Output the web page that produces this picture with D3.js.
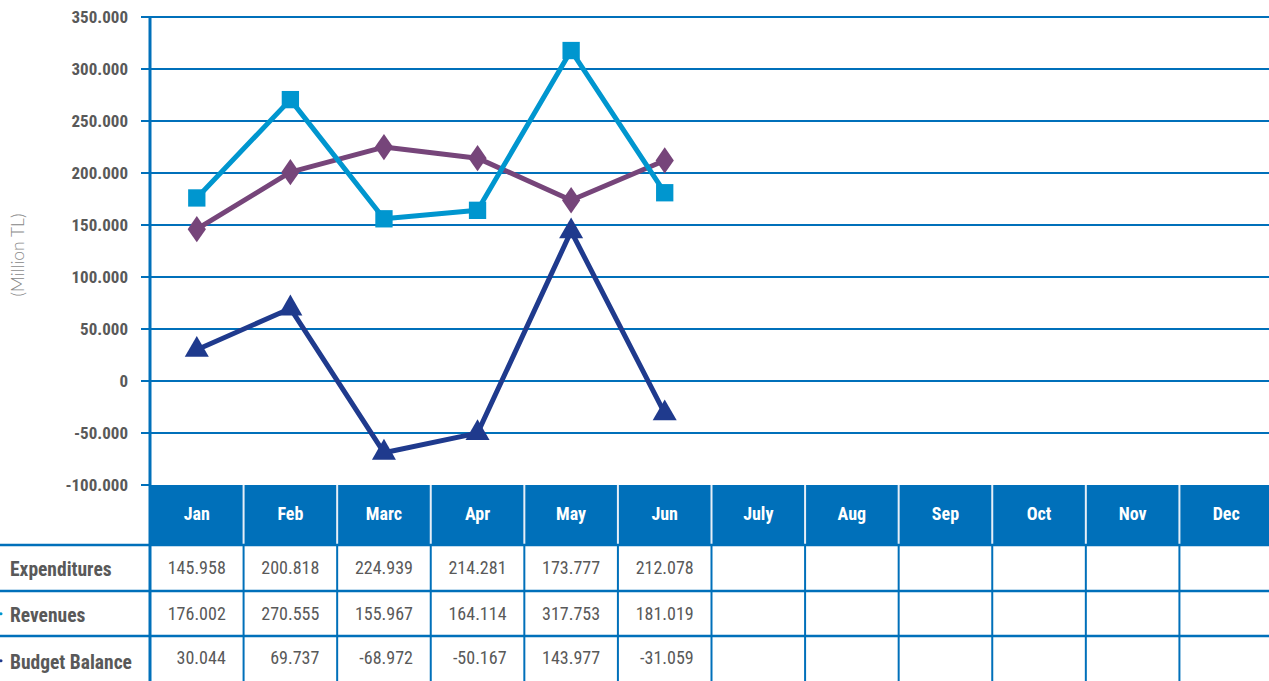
<!DOCTYPE html>
<html>
<head>
<meta charset="utf-8">
<script src="https://cdn.jsdelivr.net/npm/d3@7"></script>
<style>
  body { margin: 0; background: #fff; }
  svg text { font-family: "Liberation Sans Narrow", "Arial Narrow", "Roboto Condensed", sans-serif; }
</style>
</head>
<body>
<div id="app"></div>
<script>
const months = ["Jan", "Feb", "Marc", "Apr", "May", "Jun", "July", "Aug", "Sep", "Oct", "Nov", "Dec"];
const seriesNames = ["Expenditures", "Revenues", "Budget Balance"];
const expenditures = [145.958, 200.818, 224.939, 214.281, 173.777, 212.078];
const revenues = [176.002, 270.555, 155.967, 164.114, 317.753, 181.019];
const budgetBalance = [30.044, 69.737, -68.972, -50.167, 143.977, -31.059];
const yTicks = [-100, -50, 0, 50, 100, 150, 200, 250, 300, 350];

const width = 1269, height = 681;
const blue = "#0070ba";
const colors = ["#76457a", "#0096cf", "#1f3a8d"];
const series = [expenditures, revenues, budgetBalance];

const svg = d3.select("#app").append("svg")
    .attr("width", width)
    .attr("height", height);

// scales
let x = d3.scaleBand()
    .domain(months)
    .range([150, 1273])
    .padding(0);

let y = d3.scaleLinear()
    .domain([-100, 350])
    .range([485, 17]);

// plain hyphen for negatives, like the original
const fmt = v => d3.format(".3f")(v).replace("\u2212", "-");

// gridlines
svg.append("g").selectAll("line")
    .data(yTicks.filter(d => d > -100))
    .enter().append("line")
        .attr("x1", 141).attr("x2", width)
        .attr("y1", d => y(d)).attr("y2", d => y(d))
        .attr("stroke", blue).attr("stroke-width", 2);

// y tick labels
svg.append("g").selectAll("text")
    .data(yTicks)
    .enter().append("text")
        .attr("x", 128)
        .attr("y", d => y(d))
        .attr("dy", "0.35em")
        .attr("text-anchor", "end")
        .attr("font-size", 17)
        .attr("font-weight", "bold")
        .attr("fill", "#595959")
        .text(d => d === 0 ? "0" : fmt(d));

// y axis title
svg.append("text")
    .attr("transform", "translate(24,255) rotate(-90)")
    .attr("text-anchor", "middle")
    .attr("font-size", 17.5)
    .attr("fill", "#888")
    .style("font-family", "Lato, 'Open Sans', sans-serif")
    .style("font-weight", 300)
    .text("(Million TL)");

// header band
svg.append("rect")
    .attr("x", 150).attr("y", 485)
    .attr("width", width - 150).attr("height", 60)
    .attr("fill", blue);

svg.append("line")
    .attr("x1", 141).attr("x2", 150)
    .attr("y1", y(-100)).attr("y2", y(-100))
    .attr("stroke", blue).attr("stroke-width", 2);

// vertical axis
svg.append("line")
    .attr("x1", 150).attr("x2", 150)
    .attr("y1", 16).attr("y2", height)
    .attr("stroke", blue).attr("stroke-width", 3);

// header separators and cell lines
months.slice(1).forEach(m => {
    svg.append("line")
        .attr("x1", x(m)).attr("x2", x(m))
        .attr("y1", 485).attr("y2", 545)
        .attr("stroke", "#e6eef7").attr("stroke-width", 2);
    svg.append("line")
        .attr("x1", x(m)).attr("x2", x(m))
        .attr("y1", 545).attr("y2", height)
        .attr("stroke", blue).attr("stroke-width", 2);
});

svg.append("g").selectAll("text")
    .data(months)
    .enter().append("text")
        .attr("x", d => x(d) + x.bandwidth() / 2)
        .attr("y", 514)
        .attr("dy", "0.35em")
        .attr("text-anchor", "middle")
        .attr("font-size", 18)
        .attr("font-weight", "bold")
        .attr("fill", "#fff")
        .text(d => d);

// table rows
const rowTop = [545, 591, 636];
const rowH = 45.5;
rowTop.forEach(r => {
    svg.append("line")
        .attr("x1", 0).attr("x2", width)
        .attr("y1", r).attr("y2", r)
        .attr("stroke", blue).attr("stroke-width", 2.5);
});

seriesNames.forEach((name, i) => {
    svg.append("text")
        .attr("x", 10)
        .attr("y", rowTop[i] + rowH / 2 + (i === 2 ? 3 : 1))
        .attr("dy", "0.35em")
        .attr("font-size", 19.5)
        .attr("font-weight", "bold")
        .attr("fill", "#595959")
        .text(name);
    if (i > 0) {
        svg.append("circle")
            .attr("cx", 1).attr("cy", rowTop[i] + rowH / 2 + (i === 2 ? 2 : 0))
            .attr("r", 1.5)
            .attr("fill", colors[i]);
    }
    svg.append("g").selectAll("text")
        .data(series[i])
        .enter().append("text")
            .attr("x", (d, j) => x(months[j]) + x.bandwidth() / 2 + 29)
            .attr("y", rowTop[i] + rowH / 2 + (i === 2 ? -1 : 0))
            .attr("dy", "0.35em")
            .attr("text-anchor", "end")
            .attr("font-size", 18)
            .attr("fill", "#595959")
            .text(d => fmt(d));
});

// lines
const line = d3.line()
    .x((d, j) => x(months[j]) + x.bandwidth() / 2)
    .y(d => y(d));

series.forEach((s, i) => {
    svg.append("path")
        .datum(s)
        .attr("fill", "none")
        .attr("stroke", colors[i])
        .attr("stroke-width", 5)
        .attr("stroke-linejoin", "round")
        .attr("d", line);
});

const symbols = [d3.symbolDiamond, d3.symbolSquare, d3.symbolTriangle];
const sizes = [200, 300, 250];
series.forEach((s, i) => {
    svg.append("g").selectAll("path")
        .data(s)
        .enter().append("path")
            .attr("transform", (d, j) => "translate(" + (x(months[j]) + x.bandwidth() / 2) + "," + y(d) + ")" + (i === 0 ? " scale(1.2,1)" : ""))
            .attr("d", d3.symbol().type(symbols[i]).size(sizes[i]))
            .attr("fill", colors[i]);
});
</script>
</body>
</html>
